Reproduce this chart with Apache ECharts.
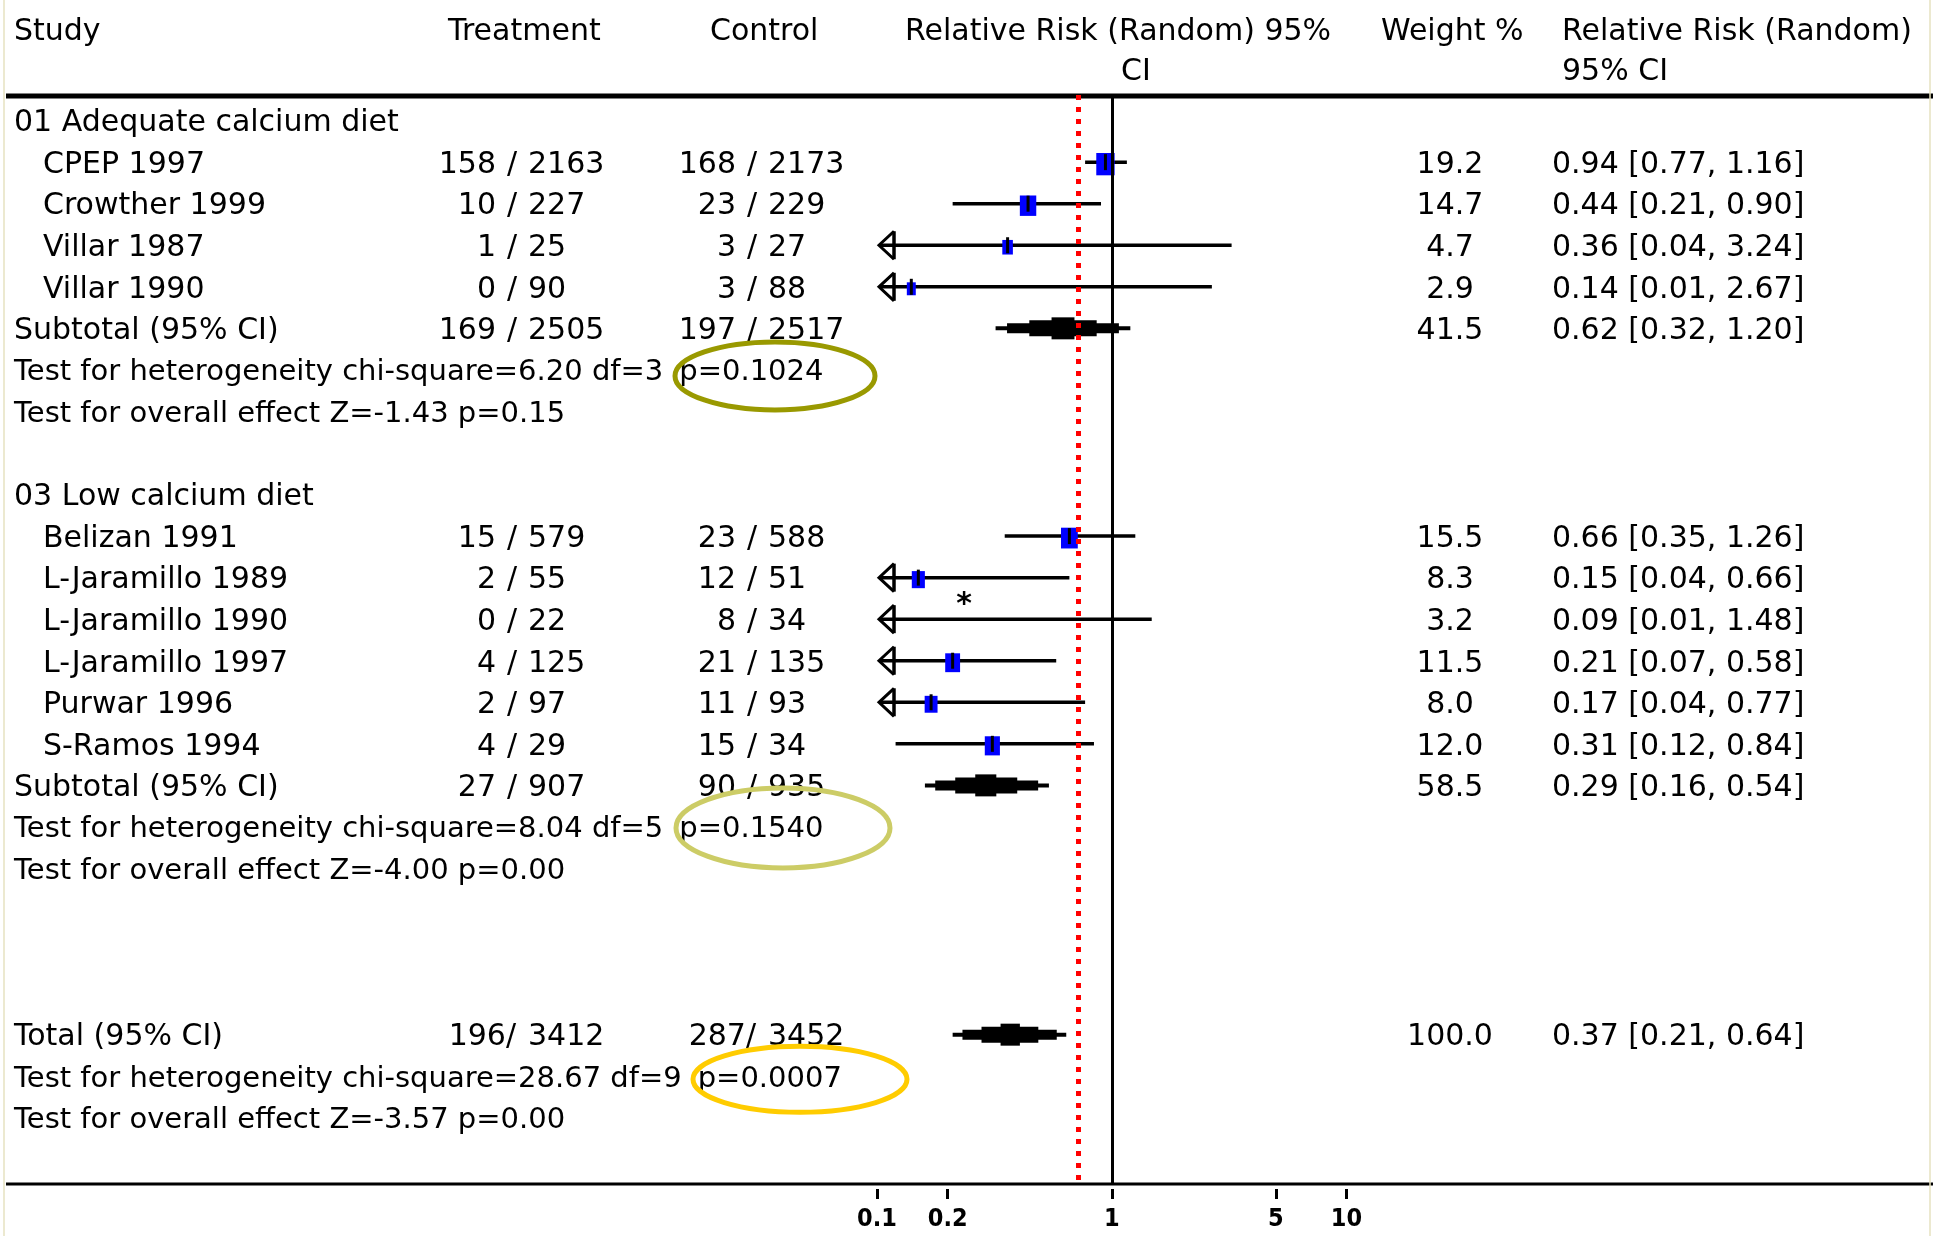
<!DOCTYPE html>
<html>
<head>
<meta charset="utf-8">
<title>Calcium diet - forest plot</title>
<script src="https://cdn.jsdelivr.net/npm/echarts@6.0.0/dist/echarts.min.js"></script>
<style>
  html, body { margin: 0; padding: 0; background: #fff; }
  #forestChart { width: 1933px; height: 1236px; }
</style>
</head>
<body>
<div id="forestChart"></div>
<script>
// ---- data ----
var groupNames = ['01 Adequate calcium diet', '03 Low calcium diet'];

var studyNames = ['CPEP 1997', 'Crowther 1999', 'Villar 1987', 'Villar 1990',
  'Belizan 1991', 'L-Jaramillo 1989', 'L-Jaramillo 1990', 'L-Jaramillo 1997', 'Purwar 1996', 'S-Ramos 1994'];
var studyGroup = [0, 0, 0, 0, 1, 1, 1, 1, 1, 1];
var trtEvents = [158, 10, 1, 0, 15, 2, 0, 4, 2, 4];
var trtTotals = [2163, 227, 25, 90, 579, 55, 22, 125, 97, 29];
var ctlEvents = [168, 23, 3, 3, 23, 12, 8, 21, 11, 15];
var ctlTotals = [2173, 229, 27, 88, 588, 51, 34, 135, 93, 34];
var weights = [19.2, 14.7, 4.7, 2.9, 15.5, 8.3, 3.2, 11.5, 8.0, 12.0];
var rr = [0.94, 0.44, 0.36, 0.14, 0.66, 0.15, 0.09, 0.21, 0.17, 0.31];
var rrLow = [0.77, 0.21, 0.04, 0.01, 0.35, 0.04, 0.01, 0.07, 0.04, 0.12];
var rrHigh = [1.16, 0.90, 3.24, 2.67, 1.26, 0.66, 1.48, 0.58, 0.77, 0.84];

// subtotals per group
var subTrtEvents = [169, 27];
var subTrtTotals = [2505, 907];
var subCtlEvents = [197, 90];
var subCtlTotals = [2517, 935];
var subWeights = [41.5, 58.5];
var subRR = [0.62, 0.29];
var subLow = [0.32, 0.16];
var subHigh = [1.20, 0.54];
var hetChi = ['6.20', '8.04'];
var hetDf = [3, 5];
var hetP = ['0.1024', '0.1540'];
var effZ = ['-1.43', '-4.00'];
var effP = ['0.15', '0.00'];

// overall total
var totTrt = [196, 3412];
var totCtl = [287, 3452];
var totWeight = 100.0;
var totRR = [0.37, 0.21, 0.64];
var totHet = ['28.67', 9, '0.0007'];
var totEff = ['-3.57', '0.00'];

var tickValues = [0.1, 0.2, 1, 5, 10];
var refLine = 0.72;   // red dotted line

// ---- layout / style ----
var FONT = '30px "DejaVu Sans"';
var TEST_FONT = '29px "DejaVu Sans"';
var TEXT_DY = 3;
var COL = { name: 14, indent: 43, trtSlash: 512, ctlSlash: 752, gap: 16, weight: 1450, ci: 1552 };
var ellipseStyle = [
  { cx: 775, dy: 6, rx: 100, ry: 34, color: '#999900' },
  { cx: 783, dy: 1, rx: 107, ry: 40, color: '#cccc66' },
  { cx: 800, dy: 3, rx: 107, ry: 33, color: '#ffcc00' }
];

var measureCtx = document.createElement('canvas').getContext('2d');
function textWidth(s, font) {
  measureCtx.font = font;
  return measureCtx.measureText(s).width;
}

function fmtCI(e, l, h) {
  return e.toFixed(2) + ' [' + l.toFixed(2) + ', ' + h.toFixed(2) + ']';
}

// ---- build rows ----
var tableRows = [];
var forestData = [];
var hetRows = [];
var row = 0;
groupNames.forEach(function (g, gi) {
  tableRows.push({ row: row, name: g });
  row++;
  for (var i = 0; i < studyNames.length; i++) {
    if (studyGroup[i] !== gi) continue;
    tableRows.push({ row: row, name: studyNames[i], indent: true,
      trt: [trtEvents[i], trtTotals[i]], ctl: [ctlEvents[i], ctlTotals[i]],
      weight: weights[i].toFixed(1), ci: fmtCI(rr[i], rrLow[i], rrHigh[i]) });
    forestData.push([rr[i], row, rrLow[i], rrHigh[i], weights[i], 0]);
    row++;
  }
  tableRows.push({ row: row, name: 'Subtotal (95% CI)',
    trt: [subTrtEvents[gi], subTrtTotals[gi]], ctl: [subCtlEvents[gi], subCtlTotals[gi]],
    weight: subWeights[gi].toFixed(1), ci: fmtCI(subRR[gi], subLow[gi], subHigh[gi]) });
  forestData.push([subRR[gi], row, subLow[gi], subHigh[gi], subWeights[gi], 1]);
  row++;
  tableRows.push({ row: row, test: true, name: 'Test for heterogeneity chi-square=' + hetChi[gi] + ' df=' + hetDf[gi], pText: 'p=' + hetP[gi] });
  hetRows.push(row);
  row++;
  tableRows.push({ row: row, test: true, name: 'Test for overall effect Z=' + effZ[gi] + ' p=' + effP[gi] });
  row++;
  row++; // blank line
});
row += 2;
tableRows.push({ row: row, name: 'Total (95% CI)', trt: totTrt, ctl: totCtl, total: true,
  weight: totWeight.toFixed(1), ci: fmtCI(totRR[0], totRR[1], totRR[2]) });
forestData.push([totRR[0], row, totRR[1], totRR[2], totWeight, 1]);
row++;
tableRows.push({ row: row, test: true, name: 'Test for heterogeneity chi-square=' + totHet[0] + ' df=' + totHet[1], pText: 'p=' + totHet[2] });
hetRows.push(row);
row++;
tableRows.push({ row: row, test: true, name: 'Test for overall effect Z=' + totEff[0] + ' p=' + totEff[1] });

// ---- drawing helpers ----
function txt(s, x, y, align, font) {
  return { type: 'text', x: x, y: y,
    style: { text: s, font: font || FONT, fill: '#000', align: align || 'left', verticalAlign: 'middle',
      textAlign: align || 'left', textVerticalAlign: 'middle' } };
}

function countCells(pair, slash, total, y) {
  var out = [];
  if (total) {
    out.push(txt(pair[0] + '/', slash + 4, y, 'right'));
  } else {
    out.push(txt(String(pair[0]), slash - COL.gap, y, 'right'));
    out.push(txt('/', slash, y, 'center'));
  }
  out.push(txt(String(pair[1]), slash + COL.gap, y, 'left'));
  return out;
}

function renderTable(params, api) {
  var r = tableRows[params.dataIndex];
  var y = api.coord([1, api.value(1)])[1] + TEXT_DY;
  var font = r.test ? TEST_FONT : FONT;
  var x = r.indent ? COL.indent : COL.name;
  var kids = [txt(r.name, x, y, 'left', font)];
  if (r.pText) kids.push(txt(r.pText, x + textWidth(r.name, font) + 16, y, 'left', font));
  if (r.trt) kids = kids.concat(countCells(r.trt, COL.trtSlash, r.total, y));
  if (r.ctl) kids = kids.concat(countCells(r.ctl, COL.ctlSlash, r.total, y));
  if (r.weight) kids.push(txt(r.weight, COL.weight, y, 'center'));
  if (r.ci) kids.push(txt(r.ci, COL.ci, y, 'left'));
  return { type: 'group', children: kids };
}

function renderForest(params, api) {
  var est = api.value(0), r = api.value(1), lo = api.value(2), hi = api.value(3), w = api.value(4), kind = api.value(5);
  var c = api.coord([est, r]);
  var xe = c[0], y = c[1];
  var xMin = api.coord([0.1, r])[0];
  var xl = api.coord([Math.max(lo, 0.1), r])[0];
  var xh = api.coord([hi, r])[0];
  var kids = [];
  if (kind === 1) {
    // stepped diamond, as in the source image
    var fr = [1, 0.83, 0.5, 0.17], hs = [4, 10, 16, 22];
    for (var k = 0; k < fr.length; k++) {
      var a = xe - fr[k] * (xe - xl), b = xe + fr[k] * (xh - xe);
      kids.push({ type: 'rect', shape: { x: a, y: y - hs[k] / 2, width: b - a, height: hs[k] }, style: { fill: '#000' } });
    }
    return { type: 'group', children: kids };
  }
  var x0 = lo < 0.1 ? xMin + 2 : xl;
  kids.push({ type: 'line', shape: { x1: x0, y1: y, x2: xh, y2: y }, style: { stroke: '#000', lineWidth: 3.5 } });
  if (lo < 0.1) {
    var bx = x0 + 15;
    kids.push({ type: 'polyline', shape: { points: [[bx, y - 14], [x0, y], [bx, y + 14]] }, style: { stroke: '#000', lineWidth: 3, fill: null } });
    kids.push({ type: 'line', shape: { x1: bx, y1: y - 14, x2: bx, y2: y + 14 }, style: { stroke: '#000', lineWidth: 3.5 } });
  }
  if (est >= 0.1) {
    var s = 3 + 3.5 * Math.sqrt(w);
    kids.push({ type: 'rect', shape: { x: xe - s / 2, y: y - (s + 4) / 2 + 2, width: s, height: s + 4 }, style: { fill: '#0000ff' } });
    kids.push({ type: 'line', shape: { x1: xe, y1: y - 8, x2: xe, y2: y + 8 }, style: { stroke: '#000', lineWidth: 3 } });
  } else {
    kids.push(txt('*', xMin + 87, y - 14, 'center', 'bold 30px "DejaVu Sans"'));
  }
  return { type: 'group', children: kids };
}

function renderEllipse(params, api) {
  var e = ellipseStyle[params.dataIndex];
  var y = api.coord([1, api.value(1)])[1];
  return { type: 'ellipse', shape: { cx: e.cx, cy: y + e.dy, rx: e.rx, ry: e.ry },
    style: { fill: null, stroke: e.color, lineWidth: 5 } };
}

function headText(s, x, y) {
  return { type: 'text', x: x, y: y, style: { text: s, font: FONT, fill: '#000', verticalAlign: 'middle', textVerticalAlign: 'middle' } };
}

// ---- chart ----
var myChart = echarts.init(document.getElementById('forestChart'));

var option = {
  backgroundColor: '#fff',
  animation: false,
  grid: { left: 877, right: 586.5, top: 95, bottom: 53, containLabel: false, outerBoundsMode: 'none' },
  xAxis: {
    type: 'log', logBase: 10, min: 0.1, max: 10, offset: 6,
    axisLine: { show: false, onZero: false },
    splitLine: { show: false },
    minorTick: { show: false },
    axisTick: { show: true, length: 10, lineStyle: { color: '#000', width: 3 }, customValues: tickValues },
    axisLabel: {
      customValues: tickValues, color: '#000', margin: 18,
      fontFamily: '"Liberation Sans Narrow", "DejaVu Sans Condensed", sans-serif', fontSize: 25, fontWeight: 'bold',
      formatter: function (v) { return String(+(+v).toFixed(1)); }
    }
  },
  yAxis: { type: 'value', inverse: true, min: -0.616, max: 25.57, show: false },
  graphic: [
    headText('Study', 14, 32),
    headText('Treatment', 448, 32),
    headText('Control', 710, 32),
    headText('Relative Risk (Random) 95%', 905, 32),
    headText('CI', 1121, 72),
    headText('Weight %', 1381, 32),
    headText('Relative Risk (Random)', 1562, 32),
    headText('95% CI', 1562, 72),
    // header rule and bottom axis rule run across the whole page
    { type: 'line', shape: { x1: 6, y1: 96, x2: 1933, y2: 96 }, style: { stroke: '#000', lineWidth: 5 } },
    { type: 'line', shape: { x1: 6, y1: 1184, x2: 1933, y2: 1184 }, style: { stroke: '#000', lineWidth: 3 } },
    // faint page borders
    { type: 'line', shape: { x1: 4, y1: 0, x2: 4, y2: 1236 }, style: { stroke: '#e6e2c0', lineWidth: 1.5 } },
    { type: 'line', shape: { x1: 1930, y1: 0, x2: 1930, y2: 1236 }, style: { stroke: '#e6e2c0', lineWidth: 1.5 } }
  ],
  series: [
    {
      name: 'table', type: 'custom', silent: true,
      data: tableRows.map(function (r) { return [1, r.row]; }),
      renderItem: renderTable
    },
    {
      name: 'forest', type: 'custom', silent: true, clip: false,
      data: forestData,
      renderItem: renderForest,
      markLine: {
        silent: true, symbol: ['none', 'none'], label: { show: false },
        data: [
          { xAxis: 1, lineStyle: { color: '#000', width: 3, type: 'solid' } },
          { xAxis: refLine, lineStyle: { color: '#ff0000', width: 5, type: [5, 7] } }
        ]
      }
    },
    {
      name: 'notes', type: 'custom', silent: true,
      data: hetRows.map(function (r) { return [1, r]; }),
      renderItem: renderEllipse
    }
  ]
};
myChart.setOption(option);
</script>
</body>
</html>
